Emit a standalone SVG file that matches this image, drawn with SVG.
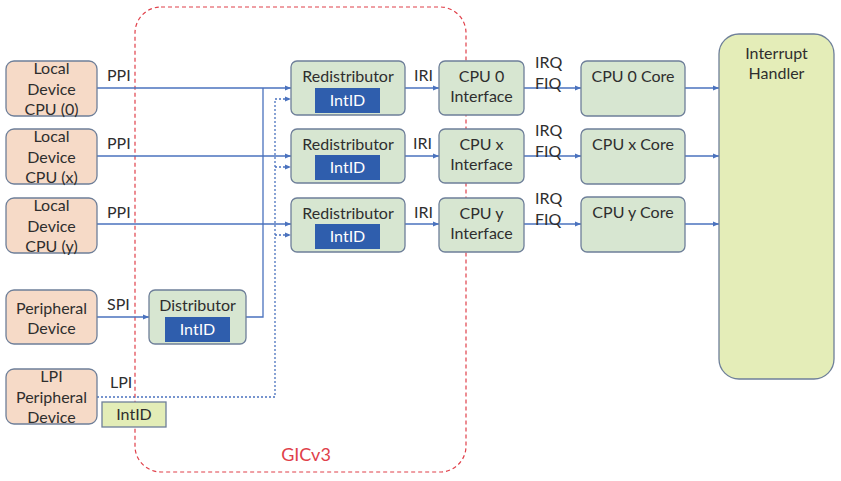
<svg xmlns="http://www.w3.org/2000/svg" width="841" height="481" viewBox="0 0 841 481">
<style>
text{font-family:Lato,"Open Sans","Liberation Sans",sans-serif;font-size:16px;fill:#2E2E2E;text-anchor:middle}
.dev{fill:#F6DAC7;stroke:#6E7F99;stroke-width:1.3}
.gr{fill:#D7E6D1;stroke:#6E7F99;stroke-width:1.3}
.id{fill:#2F5EAD}
.idt{fill:#fff}
.ln{fill:none;stroke:#4A72BE;stroke-width:1.3}
.dt{fill:none;stroke:#4A72BE;stroke-width:1.3;stroke-dasharray:2 2}
.lbl{text-anchor:start}
</style>
<defs>
<marker id="ah" viewBox="0 0 10 10" refX="10" refY="5" markerWidth="6" markerHeight="6" orient="auto" markerUnits="userSpaceOnUse">
<path d="M0,1 L10,5 L0,9 z" fill="#4A72BE"/>
</marker>
</defs>
<g id="gicv3">
<rect x="135" y="7" width="331" height="465" rx="26" fill="none" stroke="#E0404A" stroke-width="1.2" stroke-dasharray="4 3"/>
<text x="306" y="461" style="fill:#E0404A;font-size:18px">GICv3</text>
</g>
<g id="connectors">
<path class="ln" d="M97,88 H291" marker-end="url(#ah)"/>
<path class="ln" d="M97,156 H291" marker-end="url(#ah)"/>
<path class="ln" d="M97,224 H291" marker-end="url(#ah)"/>
<path class="ln" d="M97,317 H149" marker-end="url(#ah)"/>
<path class="ln" d="M246,317 H263 V88"/>
<path class="dt" d="M97,397 H275 V99 H291" marker-end="url(#ah)"/>
<path class="dt" d="M275,167 H291" marker-end="url(#ah)"/>
<path class="dt" d="M275,235 H291" marker-end="url(#ah)"/>
<path class="ln" d="M405,88 H439" marker-end="url(#ah)"/>
<path class="ln" d="M405,156 H439" marker-end="url(#ah)"/>
<path class="ln" d="M405,224 H439" marker-end="url(#ah)"/>
<path class="ln" d="M524,88 H581" marker-end="url(#ah)"/>
<path class="ln" d="M524,156 H581" marker-end="url(#ah)"/>
<path class="ln" d="M524,224 H581" marker-end="url(#ah)"/>
<path class="ln" d="M685,88 H719" marker-end="url(#ah)"/>
<path class="ln" d="M685,156 H719" marker-end="url(#ah)"/>
<path class="ln" d="M685,224 H719" marker-end="url(#ah)"/>
<text class="lbl" x="107" y="81">PPI</text>
<text class="lbl" x="107" y="149">PPI</text>
<text class="lbl" x="107" y="218">PPI</text>
<text class="lbl" x="107" y="310">SPI</text>
<text class="lbl" x="110" y="388">LPI</text>
<text class="lbl" x="414" y="81">IRI</text>
<text class="lbl" x="413" y="149">IRI</text>
<text class="lbl" x="414" y="218">IRI</text>
<text class="lbl" x="535" y="68">IRQ</text>
<text class="lbl" x="535" y="89">FIQ</text>
<text class="lbl" x="535" y="136">IRQ</text>
<text class="lbl" x="535" y="157">FIQ</text>
<text class="lbl" x="535" y="204">IRQ</text>
<text class="lbl" x="535" y="225">FIQ</text>
</g>
<g id="local-cpu0">
<rect class="dev" x="6" y="61" width="91" height="55" rx="8"/>
<text x="51.5" y="74">Local</text><text x="51.5" y="95">Device</text><text x="51.5" y="115">CPU (0)</text>
</g>
<g id="local-cpux">
<rect class="dev" x="6" y="129" width="91" height="55" rx="8"/>
<text x="51.5" y="142">Local</text><text x="51.5" y="163">Device</text><text x="51.5" y="183">CPU (x)</text>
</g>
<g id="local-cpuy">
<rect class="dev" x="6" y="198" width="91" height="55" rx="8"/>
<text x="51.5" y="211">Local</text><text x="51.5" y="232">Device</text><text x="51.5" y="252">CPU (y)</text>
</g>
<g id="peripheral">
<rect class="dev" x="6" y="290" width="91" height="54" rx="8"/>
<text x="51.5" y="314">Peripheral</text><text x="51.5" y="334">Device</text>
</g>
<g id="lpi-peripheral">
<rect class="dev" x="6" y="369" width="91" height="55" rx="8"/>
<text x="51.5" y="382">LPI</text><text x="51.5" y="403">Peripheral</text><text x="51.5" y="423">Device</text>
</g>
<g id="lpi-intid">
<rect x="102" y="402" width="64" height="25" fill="#E3EDB7" stroke="#6E7F99" stroke-width="1.3"/>
<text x="134" y="420">IntID</text>
</g>
<g id="distributor">
<rect class="gr" x="149" y="290" width="97" height="54" rx="6"/>
<text x="197.5" y="311">Distributor</text>
<rect class="id" x="165" y="317" width="65" height="25"/>
<text class="idt" x="197.5" y="335">IntID</text>
</g>
<g id="redist0">
<rect class="gr" x="291" y="61" width="114" height="54" rx="6"/>
<text x="348" y="82">Redistributor</text>
<rect class="id" x="315" y="88" width="65" height="25"/>
<text class="idt" x="347.5" y="106">IntID</text>
</g>
<g id="redistx">
<rect class="gr" x="291" y="129" width="114" height="54" rx="6"/>
<text x="348" y="150">Redistributor</text>
<rect class="id" x="315" y="155" width="65" height="25"/>
<text class="idt" x="347.5" y="173">IntID</text>
</g>
<g id="redisty">
<rect class="gr" x="291" y="198" width="114" height="54" rx="6"/>
<text x="348" y="219">Redistributor</text>
<rect class="id" x="315" y="224" width="65" height="25"/>
<text class="idt" x="347.5" y="242">IntID</text>
</g>
<g id="cpu0-if">
<rect class="gr" x="439" y="61" width="85" height="54" rx="6"/>
<text x="481.5" y="82">CPU 0</text><text x="481.5" y="102">Interface</text>
</g>
<g id="cpux-if">
<rect class="gr" x="439" y="129" width="85" height="54" rx="6"/>
<text x="481.5" y="150">CPU x</text><text x="481.5" y="170">Interface</text>
</g>
<g id="cpuy-if">
<rect class="gr" x="439" y="198" width="85" height="54" rx="6"/>
<text x="481.5" y="219">CPU y</text><text x="481.5" y="239">Interface</text>
</g>
<g id="cpu0-core">
<rect class="gr" x="581" y="61" width="104" height="55" rx="6"/>
<text x="633" y="82">CPU 0 Core</text>
</g>
<g id="cpux-core">
<rect class="gr" x="581" y="129" width="104" height="55" rx="6"/>
<text x="633" y="150">CPU x Core</text>
</g>
<g id="cpuy-core">
<rect class="gr" x="581" y="197" width="104" height="55" rx="6"/>
<text x="633" y="218">CPU y Core</text>
</g>
<g id="handler">
<rect x="719" y="34" width="115" height="345" rx="20" fill="#E4EDB8" stroke="#6E7F99" stroke-width="1.3"/>
<text x="776.5" y="59">Interrupt</text><text x="776.5" y="79">Handler</text>
</g>
</svg>
